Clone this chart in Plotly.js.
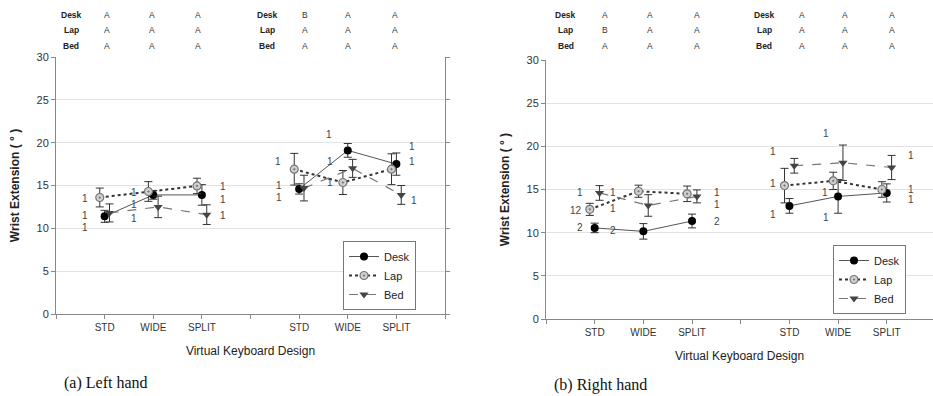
<!DOCTYPE html>
<html>
<head>
<meta charset="utf-8">
<script src="https://cdn.plot.ly/plotly-3.0.1.min.js"></script>
<style>html,body{margin:0;padding:0;background:#fff;}#chart{width:933px;height:396px;}</style>
</head>
<body>
<div id="chart"></div>
<script>
// ---------- data ----------
const designs = ['STD', 'WIDE', 'SPLIT'];
const tickText = ['', 'STD', 'WIDE', 'SPLIT', '', 'STD', 'WIDE', 'SPLIT', ''];
const seriesNames = ['Desk', 'Lap', 'Bed'];

// Left hand (group 1 then group 2: STD, WIDE, SPLIT)
const deskLeft    = [11.4, 13.9, 13.9, 14.6, 19.1, 17.5];
const deskLeftErr = [0.7, 0.5, 1.2, 0.6, 0.8, 1.3];
const lapLeft     = [13.6, 14.3, 14.95, 16.9, 15.35, 16.9];
const lapLeftErr  = [1.1, 1.15, 0.9, 1.85, 1.4, 1.8];
const bedLeft     = [11.8, 12.5, 11.6, 14.7, 17.0, 13.9];
const bedLeftErr  = [1.05, 1.25, 1.15, 1.5, 1.05, 1.1];

// Right hand
const deskRight    = [10.55, 10.15, 11.35, 13.1, 14.2, 14.6];
const deskRightErr = [0.55, 0.9, 0.8, 0.85, 1.95, 1.05];
const lapRight     = [12.7, 14.8, 14.5, 15.45, 16.0, 15.0];
const lapRightErr  = [0.7, 0.7, 0.9, 2.0, 1.0, 0.9];
const bedRight     = [14.6, 13.15, 14.2, 17.75, 18.1, 17.55];
const bedRightErr  = [0.85, 1.25, 0.75, 0.85, 2.05, 1.4];

// significance letters (rows: Desk, Lap, Bed; cols: group1 STD..SPLIT, group2 STD..SPLIT)
const lettersLeft  = [['A','A','A','B','A','A'], ['A','A','A','A','A','A'], ['A','A','A','A','A','A']];
const lettersRight = [['A','A','A','A','A','A'], ['B','A','A','A','A','A'], ['A','A','A','A','A','A']];

// small rank labels next to points
const rankLeft  = ['1','1','1','1','1','1','1','1','1','1','1','1','1','1','1','1','1','1'];
const rankRight = ['1','12','2','1','1','2','1','1','2','1','1','1','1','1','1','1','1','1'];

// ---------- layout helpers ----------
const slotPos = [1, 2, 3, 5, 6, 7];
const offsets = [0, -0.1, 0.1]; // Desk, Lap, Bed
const W = 933, H = 396;

function withGap(arr) { return [arr[0], arr[1], arr[2], null, arr[3], arr[4], arr[5]]; }
function xs(off) { return withGap(slotPos.map(p => p + off)); }

const styles = [
  { line: { color: '#555', width: 1 }, marker: { symbol: 'circle', size: 8, color: '#000' } },
  { line: { color: '#333', width: 2, dash: 'dot' }, marker: { symbol: 'circle-dot', size: 8, color: '#cfcfcf', line: { color: '#777', width: 1.2 } } },
  { line: { color: '#777', width: 1.2, dash: 'dash' }, marker: { symbol: 'triangle-down', size: 8, color: '#444' } }
];

function makeTraces(vals, errs, xa, ya, legendId) {
  return vals.map((v, i) => ({
    type: 'scatter', mode: 'lines+markers', name: seriesNames[i],
    x: xs(offsets[i]), y: withGap(v), xaxis: xa, yaxis: ya, legend: legendId,
    line: styles[i].line, marker: styles[i].marker, cliponaxis: false,
    error_y: { type: 'data', array: withGap(errs[i]), visible: true, color: '#333', thickness: 1, width: 4 }
  }));
}

const traces = [].concat(
  makeTraces([deskLeft, lapLeft, bedLeft], [deskLeftErr, lapLeftErr, bedLeftErr], 'x', 'y', 'legend'),
  makeTraces([deskRight, lapRight, bedRight], [deskRightErr, lapRightErr, bedRightErr], 'x2', 'y2', 'legend2')
);

// annotation positions (layout, in axis units)
const rankPosLeft = [[0.6,13.5],[0.6,11.55],[0.6,10.15],[1.6,14.2],[1.6,12.8],[1.6,11.1],[3.44,14.9],[3.44,13.4],[3.44,11.45],
                     [4.57,17.75],[4.59,15.05],[4.59,13.55],[5.62,21.0],[5.64,17.85],[5.64,15.3],[7.33,19.6],[7.33,17.85],[7.37,13.3]];
const rankPosRight = [[0.7,14.7],[0.62,12.6],[0.7,10.55],[1.38,14.7],[1.38,12.75],[1.38,10.2],[3.51,14.6],[3.51,13.3],[3.51,11.35],
                      [4.66,19.35],[4.66,15.75],[4.66,12.15],[5.75,21.45],[5.73,14.7],[5.75,11.7],[7.49,18.9],[7.49,14.95],[7.49,13.8]];

const annotations = [];
function addRanks(texts, pos, xa, ya) {
  texts.forEach((t, i) => annotations.push({ text: t, x: pos[i][0], y: pos[i][1], xref: xa, yref: ya, showarrow: false,
    font: { family: 'Liberation Sans, Arial', size: 10, color: '#444' }, xanchor: 'center', yanchor: 'middle' }));
}
addRanks(rankLeft, rankPosLeft, 'x', 'y');
addRanks(rankRight, rankPosRight, 'x2', 'y2');

function addLetters(letters, xa, labelX, colX, rowPx) {
  seriesNames.forEach((nm, r) => {
    [0, 1].forEach(g => {
      annotations.push({ text: '<b>' + nm + '</b>', x: labelX[g], y: 1 - rowPx[r] / H, xref: xa, yref: 'paper', showarrow: false,
        font: { family: 'Liberation Sans, Arial', size: 8.5, color: '#222' }, xanchor: 'center', yanchor: 'middle' });
      for (let c = 0; c < 3; c++) {
        annotations.push({ text: letters[r][g * 3 + c], x: colX[g * 3 + c], y: 1 - rowPx[r] / H, xref: xa, yref: 'paper', showarrow: false,
          font: { family: 'Liberation Sans, Arial', size: 8.5, color: '#333' }, xanchor: 'center', yanchor: 'middle' });
      }
    });
  });
}
addLetters(lettersLeft, 'x', [0.31, 4.34], [1.05, 1.98, 2.92, 5.12, 6.0, 6.98], [15, 30.5, 46]);
addLetters(lettersRight, 'x2', [0.41, 4.48], [1.21, 2.14, 3.1, 5.26, 6.14, 7.1], [15, 30.5, 46]);

annotations.push({ text: '(a) Left hand', xref: 'paper', yref: 'paper', x: 62 / W, y: 1 - 383 / H, xanchor: 'left', yanchor: 'middle',
  showarrow: false, font: { family: 'Liberation Serif, Times New Roman', size: 16, color: '#111' } });
annotations.push({ text: '(b) Right hand', xref: 'paper', yref: 'paper', x: 552 / W, y: 1 - 385 / H, xanchor: 'left', yanchor: 'middle',
  showarrow: false, font: { family: 'Liberation Serif, Times New Roman', size: 16, color: '#111' } });

const tickFont = { family: 'Liberation Sans, Arial', size: 10, color: '#333' };
function xAxis(domain, range) {
  return { domain: domain, range: range, tickvals: [0,1,2,3,4,5,6,7,8], ticktext: tickText, showgrid: false, zeroline: false,
    showline: true, linecolor: '#888', linewidth: 1, ticks: 'outside', ticklen: 4, tickcolor: '#888', tickfont: tickFont,
    title: { text: 'Virtual Keyboard Design', font: { family: 'Liberation Sans, Arial', size: 12, color: '#222' }, standoff: 14 } };
}
function yAxis(domain, anchor) {
  return { domain: domain, anchor: anchor, range: [0, 30], dtick: 5, showgrid: true, gridcolor: '#e2e2e2', gridwidth: 1, zeroline: false,
    showline: true, linecolor: '#888', linewidth: 1, mirror: 'ticks', ticks: 'outside', ticklen: 4, tickcolor: '#888',
    tickfont: { family: 'Liberation Sans, Arial', size: 11, color: '#333' },
    title: { text: '<b>Wrist Extension ( ° )</b>', font: { family: 'Liberation Sans, Arial', size: 12, color: '#222' }, standoff: 14 } };
}

const legendStyle = { font: { family: 'Liberation Sans, Arial', size: 11, color: '#222' }, bgcolor: '#fff', bordercolor: '#777', borderwidth: 1,
  xanchor: 'left', yanchor: 'top', itemwidth: 30, tracegroupgap: 0 };

const layout = {
  width: W, height: H, autosize: false, margin: { l: 0, r: 0, t: 0, b: 0 },
  paper_bgcolor: '#fff', plot_bgcolor: '#fff', showlegend: true,
  xaxis: Object.assign(xAxis([56 / W, 445 / W], [0, 8]), { anchor: 'y' }),
  yaxis: yAxis([1 - 314 / H, 1 - 57 / H], 'x'),
  xaxis2: Object.assign(xAxis([546 / W, 1], [0, 7.95]), { anchor: 'y2' }),
  yaxis2: yAxis([1 - 319 / H, 1 - 60 / H], 'x2'),
  legend: Object.assign({ x: 343 / W, y: 1 - 241 / H }, legendStyle),
  legend2: Object.assign({ x: 833 / W, y: 1 - 245 / H }, legendStyle),
  annotations: annotations
};

Plotly.newPlot('chart', traces, layout, { staticPlot: true, displayModeBar: false });
</script>
</body>
</html>
